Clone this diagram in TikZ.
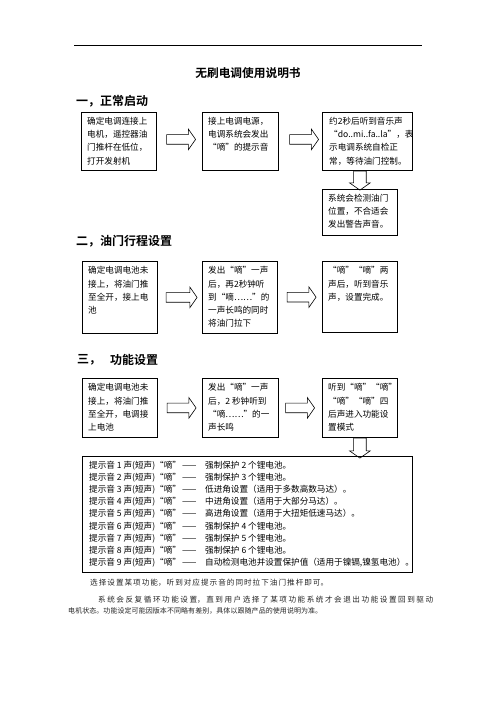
\documentclass[tikz,border=0pt]{standalone}
\usepackage{fontspec}
\usetikzlibrary{shapes.arrows,calc}
\newfontfamily\cjk{Noto Sans CJK SC}
\IfFontExistsTF{Noto Sans CJK SC Bold}{\newfontfamily\cjkb{Noto Sans CJK SC Bold}}{\newfontfamily\cjkb{Noto Sans CJK SC}[FakeBold=2]}
\newcommand\spreadline[2]{\parbox{#1}{\XeTeXlinebreaklocale "zh"\XeTeXlinebreakskip=0pt plus 1fil\parfillskip=0pt\parindent=0pt\noindent #2}}
\newcommand\tipline[3]{\makebox[93pt][l]{提示音 #1 声(短声)“嘀”}\makebox[23pt][l]{——}#2#3}
\begin{document}
\begin{tikzpicture}[x=1pt,y=-1pt,
  box/.style={draw, line width=0.8pt, inner sep=0pt, anchor=north west},
  btext/.style={font=\cjk\fontsize{8.6}{13.2}\selectfont, align=left, inner sep=0pt, anchor=north west},
  head/.style={font=\cjkb\fontsize{12}{14}\selectfont, inner sep=0pt, anchor=west},
  para/.style={font=\cjk\fontsize{7.6}{9}\selectfont, inner sep=0pt, anchor=west, text=black!85},
  rarrow/.style={draw, line width=0.6pt, single arrow, minimum height=29pt, inner sep=4.5pt,
     single arrow head extend=5.5pt, single arrow tip angle=110},
  darrow/.style={draw, line width=0.6pt, single arrow, shape border rotate=270, inner sep=6pt,
     single arrow head extend=4pt, single arrow tip angle=110}
]
\useasboundingbox (0,0) rectangle (496,702);
\fill[white] (0,0) rectangle (496,702);

% top rule
\coordinate (rl) at (74,45);
\coordinate (rr) at (422,45);
\draw[line width=0.8pt] (rl) -- (rr);

% title
\node[font=\cjkb\fontsize{11.7}{14}\selectfont, inner sep=0pt] (title) at (248,73) {无刷电调使用说明书};

% ---------- section 1
\node[head] (h1) at (76,101) {一，正常启动};
\node[box, minimum width=75pt, minimum height=58pt] (r1a) at (81,112) {};
\node[box, minimum width=76pt, minimum height=58pt] (r1b) at (202,112) {};
\node[box, minimum width=90pt, minimum height=58pt] (r1c) at (322,112) {};
\node[box, minimum width=75pt, minimum height=46pt] (r1d) at (322,189) {};
\node[btext] (t1a) at ($(r1a.north west)+(6,5)$) {确定电调连接上\\电机，遥控器油\\门推杆在低位，\\打开发射机};
\node[btext] (t1b) at ($(r1b.north west)+(6,5)$) {接上电调电源，\\电调系统会发出\\“嘀”的提示音};
\node[btext] (t1c) at ($(r1c.north west)+(7,5)$) {约2秒后听到音乐声\\“do..mi..fa..la”，表\\示电调系统自检正\\常，等待油门控制。};
\node[btext] (t1d) at ($(r1d.north west)+(6,5)$) {系统会检测油门\\位置，不合适会\\发出警告声音。};
\node[rarrow] (a1) at ($(r1a.east)!0.5!(r1b.west)+(0,-2)$) {};
\node[rarrow] (a2) at ($(r1b.east)!0.5!(r1c.west)+(2,-2)$) {};
\node[darrow, anchor=tail, minimum height=19pt] (a3) at (r1d.north |- r1c.south) {};

% ---------- section 2
\node[head] (h2) at (76,241) {二，油门行程设置};
\node[box, minimum width=75pt, minimum height=72pt] (r2a) at (82,261) {};
\node[box, minimum width=75pt, minimum height=72pt] (r2b) at (202,261) {};
\node[box, minimum width=75pt, minimum height=71pt] (r2c) at (322,261) {};
\node[btext] (t2a) at ($(r2a.north west)+(6,5.5)$) {确定电调电池未\\接上，将油门推\\至全开，接上电\\池};
\node[btext] (t2b) at ($(r2b.north west)+(6,5.5)$) {发出“嘀”一声\\后，再2秒钟听\\到“嘀……”的\\一声长鸣的同时\\将油门拉下};
\node[btext] (t2c) at ($(r2c.north west)+(6,5.5)$) {“嘀”“嘀”两\\声后，听到音乐\\声，设置完成。};
\node[rarrow, minimum height=31pt] (a4) at ($(r2a.east)!0.5!(r2b.west)$) {};
\node[rarrow] (a5) at ($(r2b.east)!0.5!(r2c.west)$) {};

% ---------- section 3
\node[head] (h3) at (77,360) {三，};
\node[head] (h3b) at (110,360) {功能设置};
\node[box, minimum width=75pt, minimum height=59pt] (r3a) at (82,378) {};
\node[box, minimum width=76pt, minimum height=59pt] (r3b) at (202,378) {};
\node[box, minimum width=75pt, minimum height=59pt] (r3c) at (322,378) {};
\node[btext] (t3a) at ($(r3a.north west)+(6,5.5)$) {确定电调电池未\\接上，将油门推\\至全开，电调接\\上电池};
\node[btext] (t3b) at ($(r3b.north west)+(6,5.5)$) {发出“嘀”一声\\后，2 秒钟听到\\“嘀……”的一\\声长鸣};
\node[btext] (t3c) at ($(r3c.north west)+(6,5.5)$) {听到“嘀”“嘀”\\“嘀”“嘀”四\\后声进入功能设\\置模式};
\node[rarrow] (a6) at ($(r3a.east)!0.5!(r3b.west)$) {};
\node[rarrow] (a7) at ($(r3b.east)!0.5!(r3c.west)+(-2,0)$) {};
\node[box, line width=1.1pt, minimum width=330pt, minimum height=116pt] (big) at (82,456) {};
\node[darrow, anchor=tail, minimum height=20pt] (a8) at (r3c.south) {};
\node[font=\cjk\fontsize{8.6}{12.1}\selectfont, align=left, inner sep=0pt, anchor=north west] (tb) at ($(big.north west)+(7,5)$) {%
\tipline{1}{强制保护 2 个锂电池。}{}\\
\tipline{2}{强制保护 3 个锂电池。}{}\\
\tipline{3}{低进角设置（适用于多数高数马达）。}{}\\
\tipline{4}{中进角设置（适用于大部分马达）。}{}\\
\tipline{5}{高进角设置（适用于大扭矩低速马达）。}{}\\
\tipline{6}{强制保护 4 个锂电池。}{}\\
\tipline{7}{强制保护 5 个锂电池。}{}\\
\tipline{8}{强制保护 6 个锂电池。}{}\\
\tipline{9}{自动检测电池并设置保护值（适用于镍镉,镍氢电池）。}{}};

% ---------- bottom paragraph
\node[para] (p1) at (90,583) {\spreadline{238pt}{选择设置某项功能，听到对应提示音的同时拉下油门推杆即可。}};
\node[para] (p2) at (98,600) {\spreadline{335pt}{系统会反复循环功能设置，直到用户选择了某项功能系统才会退出功能设置回到驱动}};
\node[para, font=\cjk\fontsize{7}{9}\selectfont] (p3) at (68,611) {\spreadline{254pt}{电机状态。功能设定可能因版本不同略有差别，具体以跟随产品的使用说明为准。}};
\end{tikzpicture}
\end{document}
